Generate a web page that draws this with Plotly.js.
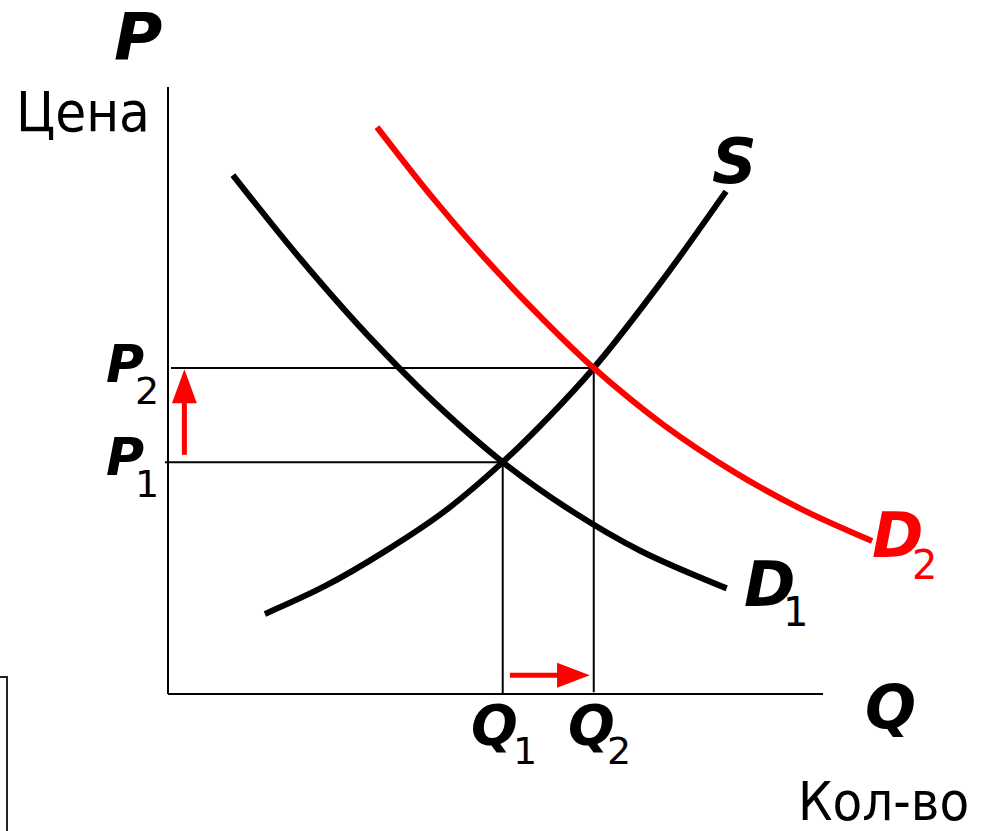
<!DOCTYPE html>
<html>
<head>
<meta charset="utf-8">
<script src="https://cdn.plot.ly/plotly-3.0.1.min.js"></script>
<style>html,body{margin:0;padding:0;background:#fff;}#chart{width:992px;height:831px;}</style>
</head>
<body>
<div id="chart"></div>
<script>
// ---- data (Q = quantity, P = price) ----
const qD1 = [0.99, 2.02, 3.04, 4.06, 5.11, 6.14, 7.21, 8.53];
const pD1 = [8.55, 7.17, 5.92, 4.81, 3.82, 3.03, 2.36, 1.74];

const qS = [1.48, 2.40, 3.31, 4.21, 5.11, 5.82, 6.50, 7.51, 8.52];
const pS = [1.32, 1.78, 2.35, 3.00, 3.82, 4.57, 5.37, 6.76, 8.28];

const qD2 = [3.19, 4.03, 4.87, 5.70, 6.50, 7.57, 8.64, 9.70, 10.75];
const pD2 = [9.34, 8.19, 7.14, 6.20, 5.37, 4.43, 3.66, 3.03, 2.52];

const Q1 = 5.11, P1 = 3.82;   // first equilibrium
const Q2 = 6.50, P2 = 5.37;   // second equilibrium
const axisMax = 10;

// ---- pixel helpers for label placement ----
const OX = 168, OY = 694, SX = 65.5, SY = 60.7;
const X = px => (px - OX) / SX;
const Y = py => (OY - py) / SY;

const RED = '#ff0000';
const curve = (q, p, color) => ({
  x: q, y: p, type: 'scatter', mode: 'lines',
  line: {color: color, width: 6, shape: 'spline', smoothing: 1},
  hoverinfo: 'skip'
});

const traces = [curve(qD1, pD1, '#000'), curve(qS, pS, '#000'), curve(qD2, pD2, RED)];

const ln = (x0, y0, x1, y1, w, c, layer) => ({type: 'line', x0, y0, x1, y1, xref: 'x', yref: 'y',
  line: {color: c || '#000', width: w}, layer: layer || 'above'});

const headLen = 0.58, headHalfX = 0.19, headLenX = 0.50, headHalfY = 0.206;
const ax = 0.25, ay = 0.31;
const shapes = [
  ln(0, 0, 0, axisMax, 2),
  ln(0, 0, axisMax, 0, 2),
  ln(X(165), P1, Q1, P1, 2, '#000', 'below'),
  ln(X(171), P2, Q2, P2, 2, '#000', 'below'),
  ln(Q1, P1, Q1, 0, 2, '#000', 'below'),
  ln(Q2, P2, Q2, 0.03, 2, '#000', 'below'),
  // up arrow P1 -> P2
  ln(ax, P1 + 0.12, ax, P2 - headLen + 0.02, 5, RED),
  {type: 'path', xref: 'x', yref: 'y', fillcolor: RED, line: {width: 0},
   path: `M ${ax - headHalfX},${P2 - headLen} L ${ax + headHalfX},${P2 - headLen} L ${ax},${P2 - 0.02} Z`},
  // right arrow Q1 -> Q2
  ln(Q1 + 0.11, ay, Q2 - 0.06 - headLenX + 0.02, ay, 5, RED),
  {type: 'path', xref: 'x', yref: 'y', fillcolor: RED, line: {width: 0},
   path: `M ${Q2 - 0.06 - headLenX},${ay - headHalfY} L ${Q2 - 0.06 - headLenX},${ay + headHalfY} L ${Q2 - 0.06},${ay} Z`},
  // partial frame at bottom-left edge
  {type: 'rect', xref: 'x', yref: 'y', x0: X(-20), x1: X(7), y0: Y(860), y1: Y(677),
   line: {color: '#222', width: 2}, fillcolor: 'rgba(0,0,0,0)'}
];

const BI = (size, color) => ({family: 'DejaVu Sans', size, color: color || '#000', weight: 'bold', style: 'italic'});
const RG = (size, color) => ({family: 'DejaVu Sans', size, color: color || '#000'});
const CY = size => ({family: 'DejaVu Sans Condensed, DejaVu Sans', size, color: '#000'});

const lab = (text, px, py, font) => ({text, x: X(px), y: Y(py), xref: 'x', yref: 'y',
  xanchor: 'center', yanchor: 'middle', showarrow: false, font});

const annotations = [
  lab('P', 137.5, 37.5, BI(66)),
  lab('Цена', 82.5, 111, CY(56)),
  lab('Q', 890, 707, BI(60)),
  lab('Кол-во', 883.5, 801, CY(54)),
  lab('S', 734.5, 161.5, BI(62)),
  lab('P', 124.5, 364, BI(52)), lab('2', 147, 391, RG(38)),
  lab('P', 124.5, 457, BI(52)), lab('1', 147, 484, RG(38)),
  lab('Q', 494, 724.5, BI(55)), lab('1', 524.5, 751, RG(38)),
  lab('Q', 591, 724.5, BI(55)), lab('2', 619, 751, RG(38)),
  lab('D', 769, 584.5, BI(62)), lab('1', 795.5, 612, RG(40)),
  lab('D', 897.5, 535.5, BI(62, RED)), lab('2', 924, 565, RG(40, RED))
];

const layout = {
  width: 992, height: 831,
  margin: {l: 0, r: 0, t: 0, b: 0, pad: 0},
  paper_bgcolor: '#fff', plot_bgcolor: '#fff',
  showlegend: false,
  xaxis: {range: [X(0), X(992)], visible: false, fixedrange: true},
  yaxis: {range: [Y(831), Y(0)], visible: false, fixedrange: true},
  shapes, annotations
};

Plotly.newPlot('chart', traces, layout, {staticPlot: true, displayModeBar: false});
</script>
</body>
</html>
